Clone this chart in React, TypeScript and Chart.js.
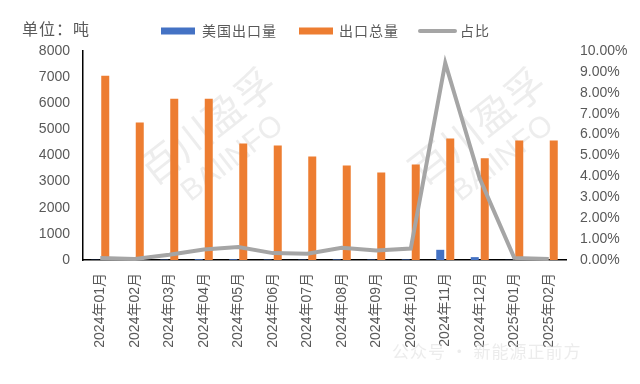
import React, { useEffect, useRef } from "react";
import { Chart, registerables } from "chart.js";

Chart.register(...registerables);

const categories = [
  "2024年01月", "2024年02月", "2024年03月", "2024年04月", "2024年05月", "2024年06月", "2024年07月",
  "2024年08月", "2024年09月", "2024年10月", "2024年11月", "2024年12月", "2025年01月", "2025年02月",
];
const usExports = [7, 3, 15, 30, 28, 15, 12, 21, 15, 20, 390, 110, 5, 2];
const totalExports = [7050, 5260, 6170, 6170, 4460, 4380, 3960, 3620, 3350, 3660, 4650, 3890, 4570, 4570];
const shareRatio = [0.001, 0.0005, 0.0025, 0.005, 0.0062, 0.0033, 0.003, 0.0058, 0.0045, 0.0055, 0.0943, 0.039, 0.001, 0.0005];
const leftTicks = [0, 1000, 2000, 3000, 4000, 5000, 6000, 7000, 8000];
const rightTicks = [0, 0.01, 0.02, 0.03, 0.04, 0.05, 0.06, 0.07, 0.08, 0.09, 0.1];

const seriesNames = ["美国出口量", "出口总量", "占比"];
const unitLabel = "单位：吨";

const BLUE = "#4472C4";
const ORANGE = "#ED7D31";
const GRAY = "#A5A5A5";
const TEXT = "#595959";
const CJK = "'Noto Sans CJK SC', sans-serif";
const LAT = "'Liberation Sans', 'Noto Sans CJK SC', sans-serif";

const decorPlugin = {
  id: "decor",
  beforeDatasetsDraw(chart: any) {
    const ctx = chart.ctx;
    ctx.save();
    ctx.fillStyle = "rgba(190,190,190,0.28)";
    ctx.textAlign = "center";
    ctx.textBaseline = "middle";
    const marks = [
      [218, 140],
      [488, 140],
    ];
    for (const [x, y] of marks) {
      ctx.save();
      ctx.translate(x, y);
      ctx.rotate((-38 * Math.PI) / 180);
      ctx.font = `40px ${CJK}`;
      ctx.fillText("百川盈孚", 0, -18);
      ctx.font = `30px ${LAT}`;
      ctx.fillText("BAIINFO", 0, 24);
      ctx.restore();
    }
    ctx.restore();
  },
  afterDraw(chart: any) {
    const ctx = chart.ctx;
    ctx.save();
    ctx.textBaseline = "middle";
    ctx.fillStyle = TEXT;
    ctx.font = `16px ${CJK}`;
    (ctx as any).letterSpacing = "1px";
    ctx.textAlign = "left";
    ctx.fillText(unitLabel, 22, 29);

    ctx.font = `14px ${CJK}`;
    (ctx as any).letterSpacing = "1px";
    const ly = 31;
    ctx.fillStyle = BLUE;
    ctx.fillRect(161, ly - 3.5, 34, 7);
    ctx.fillStyle = TEXT;
    ctx.fillText(seriesNames[0], 202, ly);
    ctx.fillStyle = ORANGE;
    ctx.fillRect(299, ly - 3.5, 34, 7);
    ctx.fillStyle = TEXT;
    ctx.fillText(seriesNames[1], 339, ly);
    ctx.strokeStyle = GRAY;
    ctx.lineWidth = 4;
    ctx.lineCap = "round";
    ctx.beginPath();
    ctx.moveTo(420, ly);
    ctx.lineTo(455, ly);
    ctx.stroke();
    ctx.fillStyle = TEXT;
    ctx.fillText(seriesNames[2], 460, ly);

    ctx.font = `17px ${CJK}`;
    ctx.fillStyle = "rgba(220,220,220,0.55)";
    ctx.fillText("公众号 · 新能源正前方", 392, 352);
    ctx.restore();
  },
};

export default function App() {
  const ref = useRef<HTMLCanvasElement | null>(null);
  useEffect(() => {
    document.body.style.margin = "0";
    const canvas = ref.current;
    if (!canvas) return;
    const chart = new Chart(canvas, {
      type: "bar",
      data: {
        labels: categories,
        datasets: [
          {
            type: "line",
            label: seriesNames[2],
            data: shareRatio,
            yAxisID: "y1",
            borderColor: GRAY,
            backgroundColor: GRAY,
            borderWidth: 4,
            pointRadius: 0,
            tension: 0,
            clip: false as any,
            order: 0,
          } as any,
          {
            type: "bar",
            label: seriesNames[0],
            data: usExports,
            yAxisID: "y",
            backgroundColor: BLUE,
            barPercentage: 0.8,
            categoryPercentage: 0.58,
            order: 1,
          },
          {
            type: "bar",
            label: seriesNames[1],
            data: totalExports,
            yAxisID: "y",
            backgroundColor: ORANGE,
            barPercentage: 0.8,
            categoryPercentage: 0.58,
            order: 1,
          },
        ],
      },
      options: {
        animation: false,
        responsive: true,
        maintainAspectRatio: false,
        layout: { padding: { top: 51, left: 0, right: 0, bottom: 0 } },
        plugins: { legend: { display: false }, tooltip: { enabled: false } },
        scales: {
          x: {
            grid: { display: false, drawTicks: false },
            border: { display: true, color: "#000", width: 1.5 },
            ticks: {
              color: TEXT,
              font: { size: 14, family: LAT },
              maxRotation: 90,
              minRotation: 90,
              padding: 13,
              autoSkip: false,
            },
            afterFit: (s: any) => {
              s.height = 124;
            },
          },
          y: {
            position: "left",
            min: 0,
            max: 8000,
            afterBuildTicks: (s: any) => {
              s.ticks = leftTicks.map((v) => ({ value: v }));
            },
            grid: { display: false, drawTicks: false },
            border: { display: true, color: "#000", width: 1.5 },
            ticks: {
              color: TEXT,
              font: { size: 14, family: LAT },
              padding: 13,
              callback: (v: any) => String(v),
            },
            afterFit: (s: any) => {
              s.width = 83;
            },
          },
          y1: {
            position: "right",
            min: 0,
            max: 0.1,
            afterBuildTicks: (s: any) => {
              s.ticks = rightTicks.map((v) => ({ value: v }));
            },
            grid: { display: false, drawTicks: false },
            border: { display: false },
            ticks: {
              color: TEXT,
              font: { size: 14, family: LAT },
              padding: 14,
              callback: (v: any) => (Number(v) * 100).toFixed(2) + "%",
            },
            afterFit: (s: any) => {
              s.width = 74;
            },
          },
        },
      },
      plugins: [decorPlugin],
    });
    return () => chart.destroy();
  }, []);
  return (
    <div style={{ position: "absolute", left: 0, top: 0, width: 640, height: 384, background: "#fff" }}>
      <canvas ref={ref} />
    </div>
  );
}
